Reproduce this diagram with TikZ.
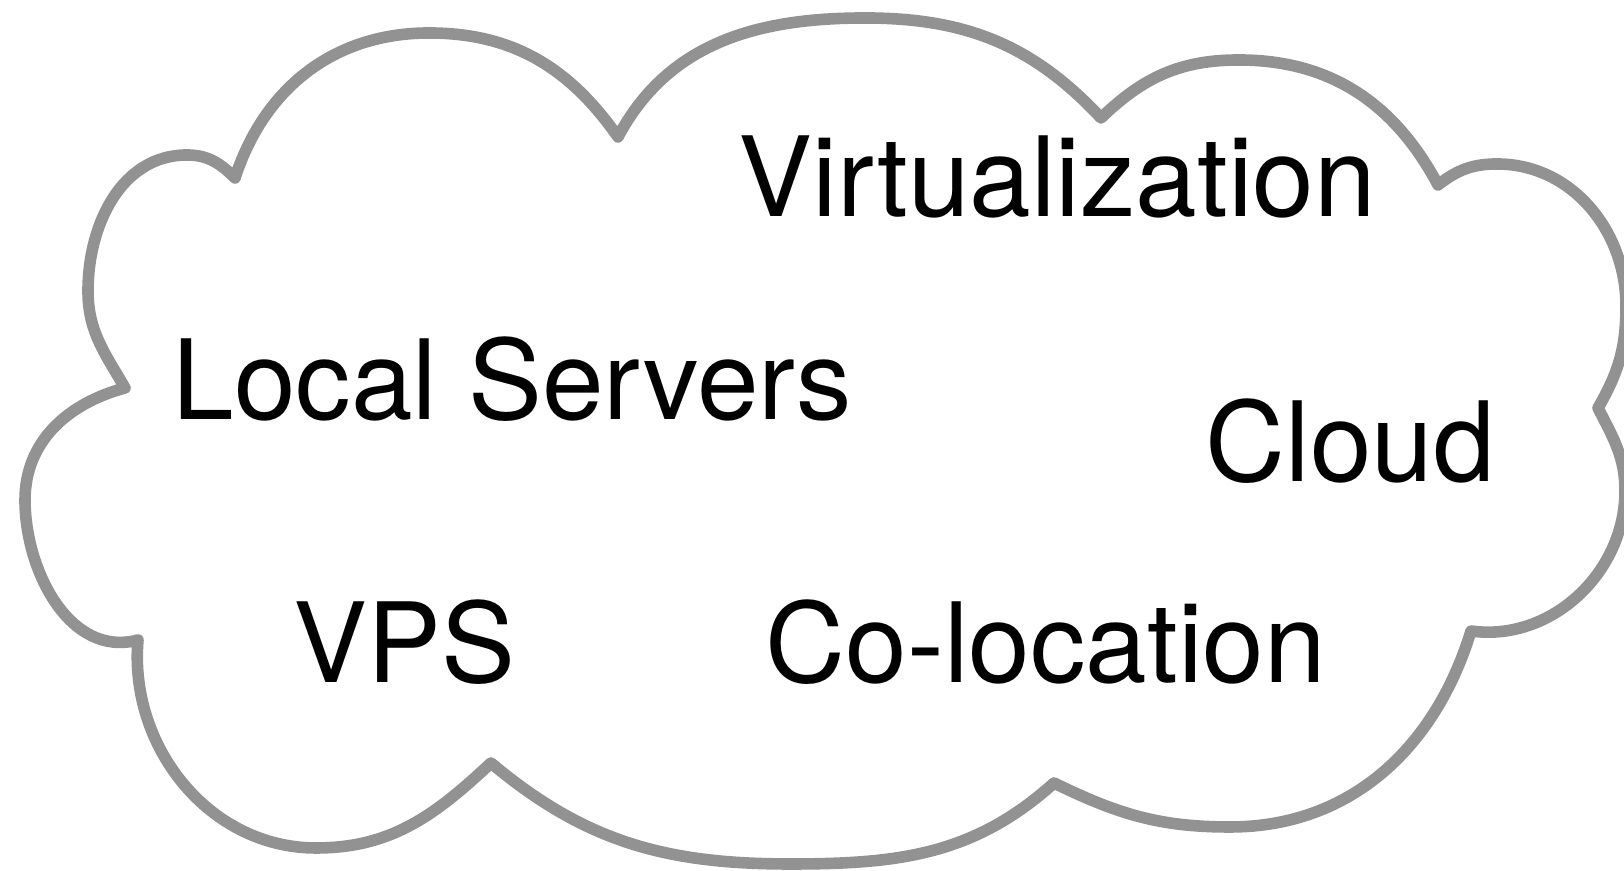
\documentclass[tikz,border=0pt]{standalone}
\usepackage{fontspec}
\setmainfont{TeX Gyre Heros}
\definecolor{cloudGray}{RGB}{146,146,146}

\begin{document}
\begin{tikzpicture}[x=0.01cm, y=0.01cm,
    cloudline/.style={line width=3.3pt, cloudGray, line join=round, fill=white},
    term/.style={anchor=base west, inner sep=0pt, font=\fontsize{31.5}{38}\selectfont}]
                % Lienzo
                \fill[white] (0,0) rectangle (1624,871);
                \useasboundingbox (0,0) rectangle (1624,871);

                % Puntas de la nube
                \coordinate (c1) at (235,693);
                \coordinate (c2) at (618,734);
                \coordinate (c3) at (1101,753);
                \coordinate (c4) at (1438,686);
                \coordinate (c5) at (1598,463);
                \coordinate (c6) at (1471,240);
                \coordinate (c7) at (1054,88);
                \coordinate (c8) at (491,108);
                \coordinate (c9) at (138,231);
                \coordinate (c10) at (125,483);

                % Contorno: lobulos entre las puntas
                \draw[cloudline]
                    (c1) to[out=72, in=180] (429,838) to[out=0, in=125] (c2)
                         to[out=62, in=180] (865,853) to[out=0, in=133] (c3)
                         to[out=44, in=180] (1239,811) to[out=0, in=118] (c4)
                         to[out=38, in=180] (1497,707) to[out=0, in=90] (1626,565) to[out=-90, in=60] (c5)
                         to[out=-63, in=90] (1625,380) to[out=-90, in=-8] (c6)
                         to[out=253, in=0] (1230,44) to[out=180, in=-26] (c7)
                         to[out=222, in=0] (790,7) to[out=180, in=-40] (c8)
                         to[out=223, in=0] (316,23) to[out=180, in=-95] (c9)
                         to[out=195, in=-90] (25,371) to[out=90, in=195] (c10)
                         to[out=120, in=-90] (88,580) to[out=90, in=180] (187,716) to[out=0, in=135] (c1)
                    -- cycle;

                % Textos
                \node[term] (virt) at (738,654) {Virtualization};
                \node[term] (local) at (172,451) {Local Servers};
                \node[term] (cloud) at (1205,389) {Cloud};
                \node[term] (vps) at (293,188) {VPS};
                \node[term] (coloc) at (765,188) {Co-location};
\end{tikzpicture}
\end{document}
